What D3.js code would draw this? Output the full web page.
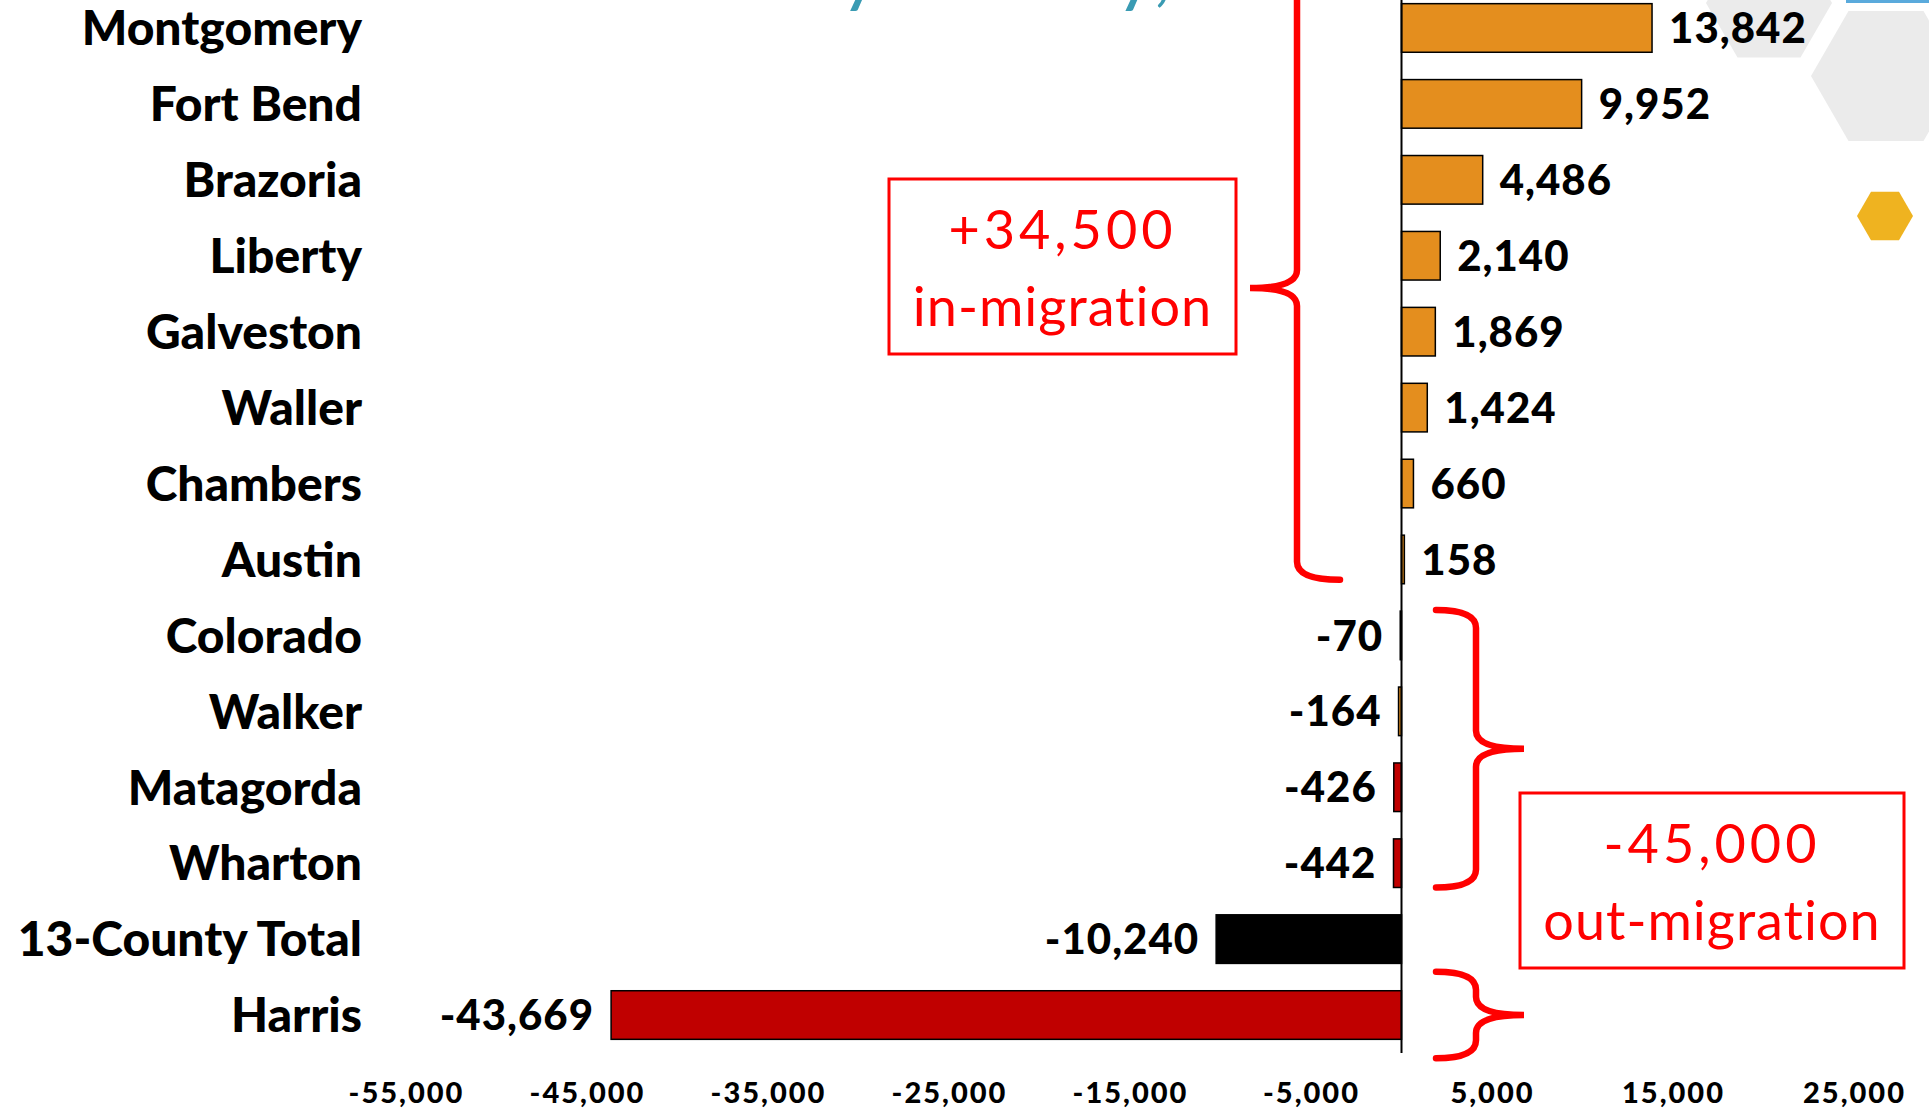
<!DOCTYPE html>
<html>
<head>
<meta charset="utf-8">
<script src="https://cdn.jsdelivr.net/npm/d3@7"></script>
<style>
  html, body { margin: 0; padding: 0; background: #fff; overflow: hidden; }
  svg { display: block; font-family: "Lato", "Noto Sans", sans-serif; }
</style>
</head>
<body>
<svg id="chart" width="1929" height="1111"></svg>
<script>
/* Net migration by county, horizontal bar chart with brace annotations. */

const counties = ["Montgomery", "Fort Bend", "Brazoria", "Liberty", "Galveston", "Waller",
    "Chambers", "Austin", "Colorado", "Walker", "Matagorda", "Wharton", "13-County Total", "Harris"];
const netMigration = [13842, 9952, 4486, 2140, 1869, 1424, 660, 158, -70, -164, -426, -442, -10240, -43669];
const xTicks = [-55000, -45000, -35000, -25000, -15000, -5000, 5000, 15000, 25000];
const inMigrationLabel = ["+34,500", "in-migration"];
const outMigrationLabel = ["-45,000", "out-migration"];
const titleText = "Domestic Moves by County, 2015-2016";

const ORANGE = "#e48e1e", DARK_RED = "#c00000", RED = "#ff0000";
const barFill = {"Matagorda": DARK_RED, "Wharton": DARK_RED, "Harris": DARK_RED, "13-County Total": "#000"};

const fmt = d3.formatLocale({decimal: ".", thousands: ",", grouping: [3], currency: ["$", ""], minus: "-"}).format(",");

const svg = d3.select("#chart");

/* background decoration (slide theme) */
function hexagon(cx, cy, r) {
    let pts = d3.range(6).map(i => [cx + r * Math.cos(i * Math.PI / 3), cy + r * Math.sin(i * Math.PI / 3)]);
    return d3.line()(pts) + "Z";
}
svg.append("path").attr("d", hexagon(1769, 3, 63)).attr("fill", "#ebebeb");
svg.append("path").attr("d", hexagon(1886, 76, 75)).attr("fill", "#ebebeb");
svg.append("path").attr("d", hexagon(1885, 216, 28)).attr("fill", "#efb320");
svg.append("rect").attr("x", 1846).attr("y", 0).attr("width", 83).attr("height", 3).attr("fill", "#5aaadc");

/* slide title, almost entirely above the top edge */
const title = svg.append("text")
    .attr("x", 0).attr("y", -3)
    .attr("fill", "#3a9bb3")
    .style("font-size", "80px")
    .text(titleText);
let yIndex = titleText.indexOf("by ") + 1;
let yPos = title.node().getStartPositionOfChar(yIndex).x;
title.attr("x", 840 - yPos);

/* scales */
const x = d3.scaleLinear().domain([-55000, 25000]).range([406, 1854]);
const y = d3.scaleBand().domain(counties).range([-10, 1053]).paddingInner(0.36).paddingOuter(0.18);
const bw = y.bandwidth();

const data = counties.map((c, i) => ({county: c, value: netMigration[i]}));

/* bars */
svg.append("g").selectAll("rect")
    .data(data)
    .join("rect")
    .attr("x", d => x(Math.min(0, d.value)))
    .attr("y", d => y(d.county))
    .attr("width", d => Math.abs(x(d.value) - x(0)))
    .attr("height", bw)
    .attr("fill", d => barFill[d.county] || ORANGE)
    .attr("stroke", "#000")
    .attr("stroke-width", 1.5);

/* zero line */
svg.append("line")
    .attr("x1", x(0)).attr("x2", x(0))
    .attr("y1", -10).attr("y2", 1053)
    .attr("stroke", "#000").attr("stroke-width", 2);

/* value labels */
svg.append("g").selectAll("text")
    .data(data)
    .join("text")
    .attr("x", d => d.value >= 0 ? x(d.value) + 17 : x(d.value) - 17)
    .attr("y", d => y(d.county) + bw / 2)
    .attr("dy", "0.36em")
    .attr("text-anchor", d => d.value >= 0 ? "start" : "end")
    .style("font-size", "42px")
    .style("font-weight", 900)
    .style("letter-spacing", "1px")
    .text(d => fmt(d.value));

/* category axis */
const yAxis = svg.append("g")
    .attr("transform", "translate(362,0)")
    .call(d3.axisLeft(y).tickSize(0).tickPadding(0));
yAxis.select(".domain").remove();
yAxis.selectAll("text")
    .attr("x", 0)
    .attr("dy", "0.36em")
    .attr("fill", "#000")
    .style("font-family", "Lato, sans-serif")
    .style("font-size", "48px")
    .style("font-weight", 900);

/* value axis */
const xAxis = svg.append("g")
    .attr("transform", "translate(0,1053)")
    .call(d3.axisBottom(x).tickValues(xTicks).tickFormat(fmt).tickSize(0));
xAxis.select(".domain").remove();
xAxis.selectAll("text")
    .attr("y", 50)
    .attr("dy", null)
    .attr("fill", "#000")
    .style("font-family", "Lato, sans-serif")
    .style("font-size", "29px")
    .style("font-weight", 900)
    .style("letter-spacing", "2px");

/* braces: spine x, end x, tip x, top y, tip y, bottom y */
function brace(xSpine, xEnd, xTip, y0, ym, y1, r) {
    return `M${xEnd},${y0} Q${xSpine},${y0} ${xSpine},${y0 + r} L${xSpine},${ym - r} ` +
        `Q${xSpine},${ym} ${xTip},${ym} Q${xSpine},${ym} ${xSpine},${ym + r} ` +
        `L${xSpine},${y1 - r} Q${xSpine},${y1} ${xEnd},${y1}`;
}
const braces = [
    [1297, 1340, 1250, -40, 288, y("Austin") + bw - 4],
    [1476, 1436, 1524, y("Colorado") - 1, (y("Colorado") + y("Wharton") + bw - 1) / 2, y("Wharton") + bw],
    [1476, 1436, 1524, y("Harris") - 19, y("Harris") + bw / 2, y("Harris") + bw + 19]
];
svg.append("g").selectAll("path")
    .data(braces)
    .join("path")
    .attr("d", b => brace(b[0], b[1], b[2], b[3], b[4], b[5], 18))
    .attr("fill", "none")
    .attr("stroke", RED)
    .attr("stroke-width", 6.5)
    .attr("stroke-linecap", "round");

/* annotation boxes */
function annotation(x0, y0, w, h, lines) {
    let g = svg.append("g");
    g.append("rect")
        .attr("x", x0).attr("y", y0).attr("width", w).attr("height", h)
        .attr("fill", "#fff").attr("stroke", RED).attr("stroke-width", 3);
    g.append("text")
        .attr("x", x0 + w / 2).attr("y", y0 + 70)
        .attr("text-anchor", "middle").attr("fill", RED)
        .style("font-size", "54px").style("letter-spacing", "4px")
        .text(lines[0]);
    g.append("text")
        .attr("x", x0 + w / 2).attr("y", y0 + 147)
        .attr("text-anchor", "middle").attr("fill", RED)
        .style("font-size", "54px").style("letter-spacing", "1px")
        .text(lines[1]);
}
annotation(889, 179, 347, 175, inMigrationLabel);
annotation(1520, 793, 384, 175, outMigrationLabel);
</script>
</body>
</html>
